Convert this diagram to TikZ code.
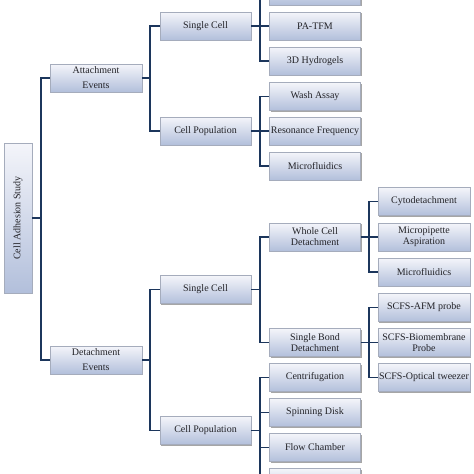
\documentclass[tikz,border=0pt]{standalone}
\usepackage{fontspec}
\setmainfont{Liberation Serif}
\usetikzlibrary{shadows}
\definecolor{boxtop}{RGB}{244,245,250}
\definecolor{boxbot}{RGB}{178,191,219}
\definecolor{boxedge}{RGB}{165,172,188}
\definecolor{linec}{RGB}{28,54,92}
\definecolor{txt}{RGB}{35,35,40}
\tikzset{
  box/.style={draw=boxedge, line width=0.5pt, top color=boxtop, bottom color=boxbot,
    drop shadow={shadow xshift=1.2pt, shadow yshift=-1.2pt, fill=black, opacity=0.35},
    minimum width=91pt, minimum height=28pt, inner sep=1pt, align=center,
    text=txt, font=\fontsize{10}{11}\selectfont},
  wide/.style={box, minimum width=92pt},
  evt/.style={box, minimum width=92pt, font=\fontsize{10}{15}\selectfont},
  conn/.style={draw=linec, line width=1.6pt},
}
\begin{document}
\begin{tikzpicture}[x=1pt,y=-1pt]
\useasboundingbox (0,0) rectangle (474,474);
\begin{scope}
\clip (0,0) rectangle (474,474);
% root
\node[box, minimum width=150pt, minimum height=28pt, rotate=90] (root) at (18,218) {Cell Adhesion Study};
% level 1
\node[evt] (att) at (96,78) {Attachment\\Events};
\node[evt] (det) at (96,360) {Detachment\\Events};
% level 2
\node[box] (asc) at (205.5,26) {Single Cell};
\node[box] (acp) at (205.5,131) {Cell Population};
\node[box] (dsc) at (205.5,289.5) {Single Cell};
\node[box] (dcp) at (205.5,430.5) {Cell Population};
% level 3
\node[box] (top) at (315,-9) {};
\node[box] (patfm) at (315,26) {PA-TFM};
\node[box] (hydro) at (315,61) {3D Hydrogels};
\node[box] (wash) at (315,96.5) {Wash Assay};
\node[box] (reso) at (315,131) {Resonance Frequency};
\node[box] (mfa) at (315,166) {Microfluidics};
\node[box] (whole) at (315,237) {Whole Cell\\Detachment};
\node[box] (bond) at (315,342.5) {Single Bond\\Detachment};
\node[box] (centr) at (315,377.5) {Centrifugation};
\node[box] (spin) at (315,412.5) {Spinning Disk};
\node[box] (flow) at (315,447.5) {Flow Chamber};
\node[box] (bottom) at (315,482.5) {};
% level 4
\node[wide] (cyto) at (424,201.5) {Cytodetachment};
\node[wide] (pip) at (424,237) {Micropipette\\Aspiration};
\node[wide] (mfb) at (424,272) {Microfluidics};
\node[wide] (afm) at (424,307.5) {SCFS-AFM probe};
\node[wide] (bio) at (424,342.5) {SCFS-Biomembrane\\Probe};
\node[wide] (opt) at (424,377.5) {SCFS-Optical tweezer};
% connectors
\foreach \c in {att,det} \draw[conn] (root.south) -- (41,218) |- (\c.west);
\foreach \c in {asc,acp} \draw[conn] (att.east) -- (150,78) |- (\c.west);
\foreach \c in {dsc,dcp} \draw[conn] (det.east) -- (150,360) |- (\c.west);
\foreach \c in {top,patfm,hydro} \draw[conn] (asc.east) -- (260,26) |- (\c.west);
\foreach \c in {wash,reso,mfa} \draw[conn] (acp.east) -- (260,131) |- (\c.west);
\foreach \c in {whole,bond} \draw[conn] (dsc.east) -- (260,289.5) |- (\c.west);
\foreach \c in {centr,spin,flow,bottom} \draw[conn] (dcp.east) -- (260,430.5) |- (\c.west);
\foreach \c in {cyto,pip,mfb} \draw[conn] (whole.east) -- (369,237) |- (\c.west);
\foreach \c in {afm,bio,opt} \draw[conn] (bond.east) -- (369,342.5) |- (\c.west);
\end{scope}
\end{tikzpicture}
\end{document}
